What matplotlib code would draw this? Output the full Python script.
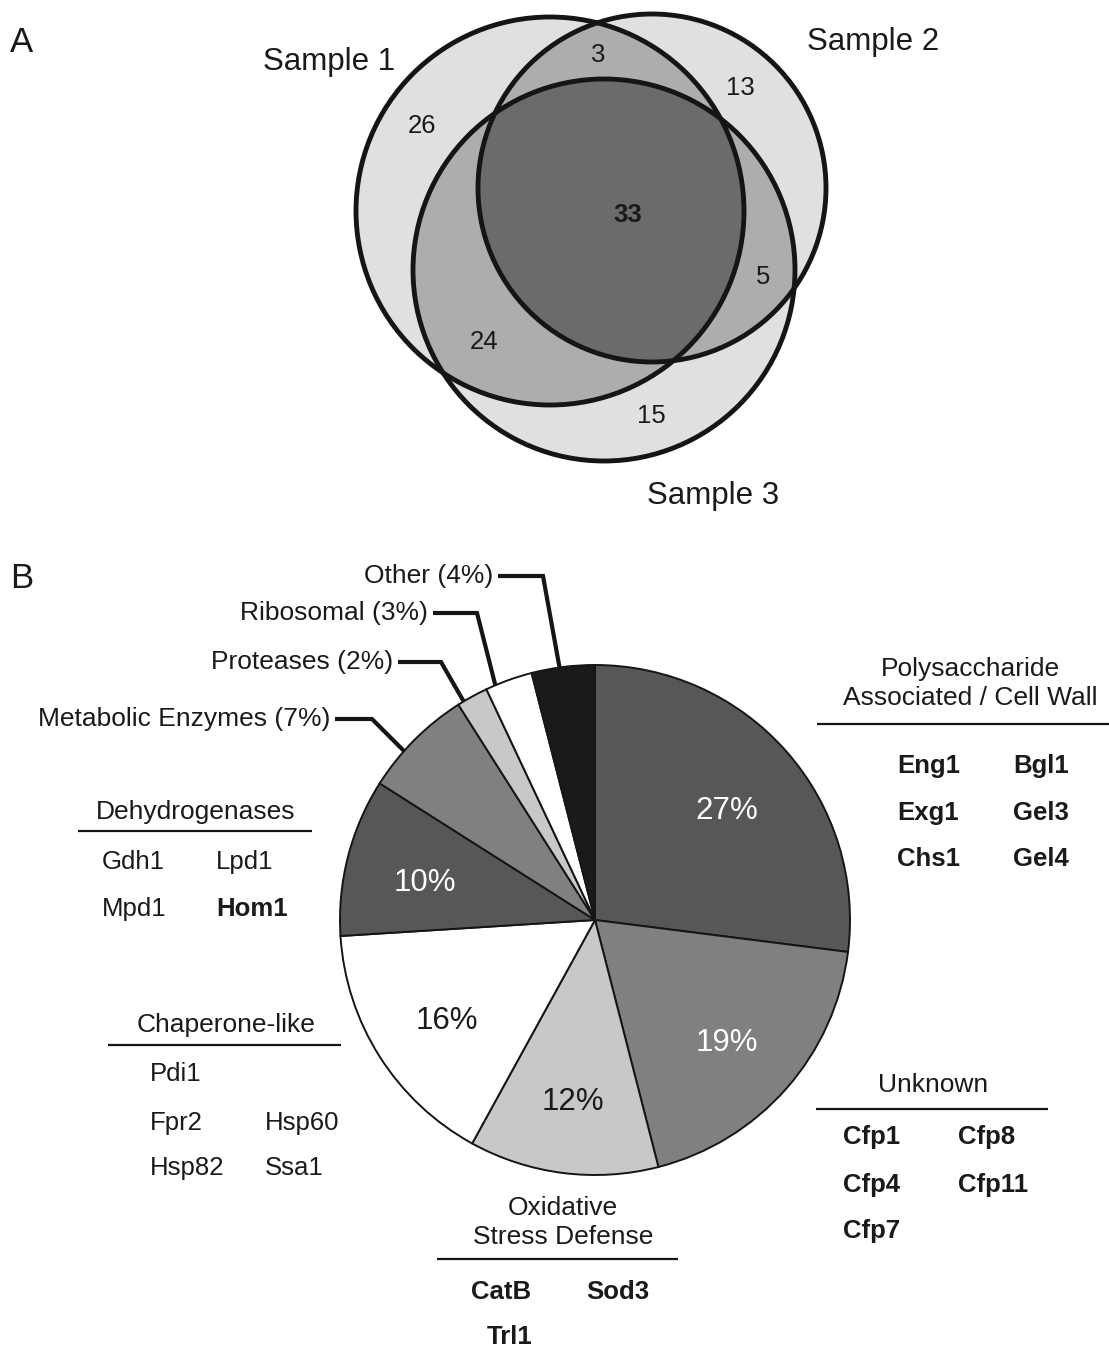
import numpy as np
import matplotlib
matplotlib.use("Agg")
import matplotlib.pyplot as plt
from matplotlib.patches import Circle, Polygon

plt.rcParams['font.family'] = ['Liberation Sans', 'DejaVu Sans']

# ==== DATA ====
# Panel A - Venn counts
sample_names = ["Sample 1", "Sample 2", "Sample 3"]
region_sets = ["1", "2", "3", "12", "13", "23", "123"]
region_counts = [26, 13, 15, 3, 24, 5, 33]

# Panel B - pie
pie_labels = ["Polysaccharide Associated / Cell Wall", "Unknown", "Oxidative Stress Defense",
              "Chaperone-like", "Dehydrogenases", "Metabolic Enzymes", "Proteases",
              "Ribosomal", "Other"]
pie_values = [27, 19, 12, 16, 10, 7, 2, 3, 4]
pie_colors = ["#575757", "#808080", "#c8c8c8", "#ffffff", "#575757",
              "#808080", "#c8c8c8", "#ffffff", "#1a1a1a"]
pct_colors = ["white", "white", "#1a1a1a", "#1a1a1a", "white"]

# small slices with leader labels
leader_names = ["Other", "Ribosomal", "Proteases", "Metabolic Enzymes"]
leader_pcts = [4, 3, 2, 7]

# protein groups
dehydro_items = ["Gdh1", "Lpd1", "Mpd1", "Hom1"]
dehydro_bold = [False, False, False, True]
chaperone_items = ["Pdi1", "Fpr2", "Hsp60", "Hsp82", "Ssa1"]
poly_items = ["Eng1", "Bgl1", "Exg1", "Gel3", "Chs1", "Gel4"]
unknown_items = ["Cfp1", "Cfp8", "Cfp4", "Cfp11", "Cfp7"]
oxid_items = ["CatB", "Sod3", "Trl1"]

# ==== FIGURE ====
W, H = 1109, 1351
fig = plt.figure(figsize=(W / 100, H / 100), dpi=100)
ax = fig.add_axes([0, 0, 1, 1])
TXT = "#1a1a1a"

# --- Panel A: Venn ---
centers = [(550, 211), (652, 188), (604, 270)]
radii = [194, 174, 191]
light, mid, dark = "#e0e0e0", "#adadad", "#6b6b6b"


def inter_poly(idx):
    pts = []
    for i in idx:
        cx, cy = centers[i]
        t = np.linspace(0, 2 * np.pi, 2000)
        xs, ys = cx + radii[i] * np.cos(t), cy + radii[i] * np.sin(t)
        ok = np.ones_like(xs, dtype=bool)
        for j in idx:
            if j != i:
                ok &= np.hypot(xs - centers[j][0], ys - centers[j][1]) <= radii[j] + 0.5
        pts.append(np.column_stack([xs[ok], ys[ok]]))
    pts = np.vstack(pts)
    c = pts.mean(axis=0)
    order = np.argsort(np.arctan2(pts[:, 1] - c[1], pts[:, 0] - c[0]))
    return pts[order]


for c, r in zip(centers, radii):
    ax.add_patch(Circle(c, r, facecolor=light, edgecolor="none", zorder=1))
for pair in [(0, 1), (0, 2), (1, 2)]:
    ax.add_patch(Polygon(inter_poly(pair), facecolor=mid, edgecolor="none", zorder=2))
ax.add_patch(Polygon(inter_poly((0, 1, 2)), facecolor=dark, edgecolor="none", zorder=3))
for c, r in zip(centers, radii):
    ax.add_patch(Circle(c, r, facecolor="none", edgecolor="#151515", lw=3.5, zorder=4))

region_pos = {"1": (422, 126), "2": (740, 88), "3": (651, 416), "12": (598, 55),
              "13": (484, 342), "23": (763, 277), "123": (628, 215)}
for s, n in zip(region_sets, region_counts):
    x, y = region_pos[s]
    ax.text(x, y, str(n), fontsize=18.5, ha="center", va="center", color=TXT,
            fontweight="bold" if s == "123" else "normal", zorder=5)

sample_pos = [(329, 62), (873, 42), (713, 496)]
for name, (x, y) in zip(sample_names, sample_pos):
    ax.text(x, y, name, fontsize=22.5, ha="center", va="center", color=TXT)

ax.text(22, 42, "A", fontsize=25, ha="center", va="center", color=TXT)
ax.text(22, 578, "B", fontsize=25, ha="center", va="center", color=TXT)

# --- Panel B: pie ---
pc = (595, 920)
R = 255
big = [i for i, v in enumerate(pie_values) if v >= 10]
wedges, _, autotexts = ax.pie(
    pie_values, colors=pie_colors, center=pc, radius=R, startangle=-90,
    counterclock=True, pctdistance=0.69,
    autopct=lambda p: f"{p:.0f}%" if p >= 9.5 else "",
    wedgeprops=dict(edgecolor="#151515", linewidth=1.4),
    textprops=dict(fontsize=22.5))
for k, i in enumerate(big):
    autotexts[i].set_color(pct_colors[k])
for t in autotexts:
    x, y = t.get_position()
    t.set_position((x, y + 7))

# leader labels
leader_text = [(493, 576), (428, 613), (393, 662), (330, 719)]
leader_knee = [543, 477, 441, 372]
leader_angle = [98, 113, 121, 138.5]
for name, p, (tx, ty), kx, a in zip(leader_names, leader_pcts, leader_text, leader_knee, leader_angle):
    ax.text(tx, ty, f"{name} ({p}%)", fontsize=19, ha="right", va="center", color=TXT)
    ex = pc[0] + R * np.cos(np.radians(a))
    ey = pc[1] - R * np.sin(np.radians(a))
    ax.plot([tx + 5, kx, ex], [ty, ty, ey], color="#151515", lw=3.0,
            solid_joinstyle="miter", solid_capstyle="butt", zorder=6)


def header(lines, cx, y0, x0, x1, uy):
    for k, ln in enumerate(lines):
        ax.text(cx, y0 + 29 * k, ln, fontsize=19, ha="center", va="center", color=TXT)
    ax.plot([x0, x1], [uy, uy], color="#151515", lw=1.6, solid_capstyle="butt")


def items(names, xs, ys, bold):
    for n, x, y, b in zip(names, xs, ys, bold):
        ax.text(x, y, n, fontsize=18.5, ha="left", va="center", color=TXT,
                fontweight="bold" if b else "normal")


header(["Dehydrogenases"], 196, 812, 78, 312, 831)
items(dehydro_items, [102, 216, 102, 216], [862, 862, 909, 909], dehydro_bold)

header(["Chaperone-like"], 226, 1025, 108, 341, 1045)
items(chaperone_items, [150, 150, 265, 150, 265], [1074, 1123, 1123, 1168, 1168],
      [False] * 5)

header(["Polysaccharide", "Associated / Cell Wall"], 970, 669, 817, 1109, 724)
items(poly_items, [897, 1013] * 3, [766, 766, 813, 813, 859, 859], [True] * 6)

header(["Unknown"], 933, 1085, 816, 1048, 1109)
items(unknown_items, [843, 958, 843, 958, 843], [1137, 1137, 1185, 1185, 1231], [True] * 5)

header(["Oxidative", "Stress Defense"], 563, 1208, 437, 678, 1259)
items(oxid_items, [471, 586, 487], [1292, 1292, 1337], [True] * 3)

ax.set_xlim(0, W)
ax.set_ylim(H, 0)
ax.set_aspect("equal")
ax.axis("off")
fig.savefig("out.png", dpi=100, facecolor="white")
